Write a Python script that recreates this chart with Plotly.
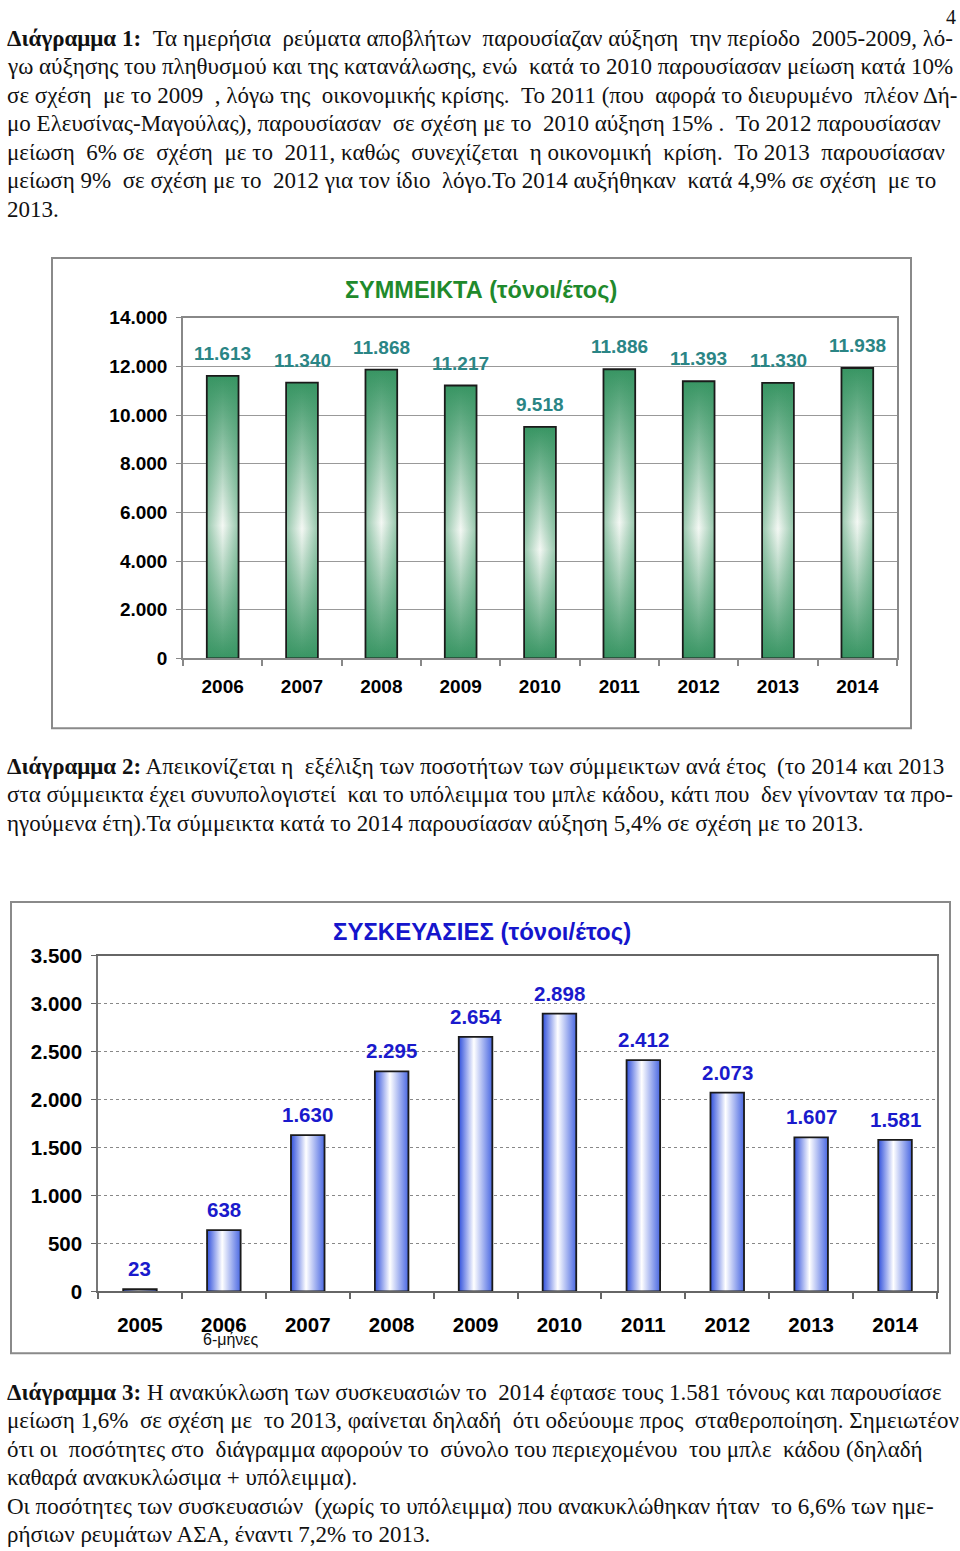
import plotly.graph_objects as go

# Page size #
W = 960
H = 1551

# The photographed page comes out slightly squeezed vertically (about 0.987, shifted
# down about 12px); positions below are given in reference pixels and corrected here.
SHOT_OFF_Y = 11.7
SHOT_SCALE_Y = 0.98665

# Data: mixed waste (tonnes/year) #
years_mixed = ["2006", "2007", "2008", "2009", "2010", "2011", "2012", "2013", "2014"]
tonnes_mixed = [11613, 11340, 11868, 11217, 9518, 11886, 11393, 11330, 11938]

# Data: packaging (tonnes/year) #
years_pack = ["2005", "2006", "2007", "2008", "2009", "2010", "2011", "2012", "2013", "2014"]
tonnes_pack = [23, 638, 1630, 2295, 2654, 2898, 2412, 2073, 1607, 1581]

# Text #
title_mixed = "ΣΥΜΜΕΙΚΤΑ (τόνοι/έτος)"
title_pack = "ΣΥΣΚΕΥΑΣΙΕΣ (τόνοι/έτος)"
pack_note = "6-μήνες"

para_1 = [
    "<b>Διάγραμμα 1:</b> Τα ημερήσια ρεύματα αποβλήτων παρουσίαζαν αύξηση την περίοδο 2005-2009, λό-",
    "γω αύξησης του πληθυσμού και της κατανάλωσης, ενώ κατά το 2010 παρουσίασαν μείωση κατά 10%",
    "σε σχέση με το 2009 , λόγω της οικονομικής κρίσης. Το 2011 (που αφορά το διευρυμένο πλέον Δή-",
    "μο Ελευσίνας-Μαγούλας), παρουσίασαν σε σχέση με το 2010 αύξηση 15% . Το 2012 παρουσίασαν",
    "μείωση 6% σε σχέση με το 2011, καθώς συνεχίζεται η οικονομική κρίση. Το 2013 παρουσίασαν",
    "μείωση 9% σε σχέση με το 2012 για τον ίδιο λόγο.Το 2014 αυξήθηκαν κατά 4,9% σε σχέση με το",
    "2013.",
]
para_2 = [
    "<b>Διάγραμμα 2:</b> Απεικονίζεται η εξέλιξη των ποσοτήτων των σύμμεικτων ανά έτος (το 2014 και 2013",
    "στα σύμμεικτα έχει συνυπολογιστεί και το υπόλειμμα του μπλε κάδου, κάτι που δεν γίνονταν τα προ-",
    "ηγούμενα έτη).Τα σύμμεικτα κατά το 2014 παρουσίασαν αύξηση 5,4% σε σχέση με το 2013.",
]
para_3 = [
    "<b>Διάγραμμα 3:</b> Η ανακύκλωση των συσκευασιών το 2014 έφτασε τους 1.581 τόνους και παρουσίασε",
    "μείωση 1,6% σε σχέση με το 2013, φαίνεται δηλαδή ότι οδεύουμε προς σταθεροποίηση. Σημειωτέον",
    "ότι οι ποσότητες στο διάγραμμα αφορούν το σύνολο του περιεχομένου του μπλε κάδου (δηλαδή",
    "καθαρά ανακυκλώσιμα + υπόλειμμα).",
    "Οι ποσότητες των συσκευασιών (χωρίς το υπόλειμμα) που ανακυκλώθηκαν ήταν το 6,6% των ημε-",
    "ρήσιων ρευμάτων ΑΣΑ, έναντι 7,2% το 2013.",
]

# Extra word spacing (no-break spaces) per line, to mimic the justified text #
justify_1 = [5, 1, 6, 3, 9, 5, 0]
justify_2 = [2, 2, 0]
justify_3 = [1, 4, 5, 0, 2, 0]

# Helpers: reference pixels -> paper coords #
def px_x(p):
    return p / W

def px_y(p):
    return 1 - ((p - SHOT_OFF_Y) / SHOT_SCALE_Y) / H

def dotted(v):
    return f"{v:,}".replace(",", ".")

def justify(text, n):
    words = text.split(" ")
    gaps = len(words) - 1
    if n <= 0 or gaps <= 0:
        return text
    extra = [0] * gaps
    for j in range(n):
        extra[min(gaps - 1, int((j + 0.5) * gaps / n))] += 1
    out = words[0]
    for g in range(gaps):
        out += " " + "\u00a0" * extra[g] + words[g + 1]
    return out

SANS = "Arial, Liberation Sans, sans-serif"
SERIF = "Liberation Serif, Times New Roman, serif"
BAR_W = 0.4
TEXT_SIZE = 23

fig = go.Figure()

# Mixed waste bars (vertical green gradient + darker edges) #
for i, v in enumerate(tonnes_mixed):
    xs = [i - BAR_W / 2, i + BAR_W / 2, i + BAR_W / 2, i - BAR_W / 2, i - BAR_W / 2]
    ys = [0, 0, v, v, 0]
    fig.add_trace(go.Scatter(
        x=xs, y=ys, xaxis="x", yaxis="y", mode="lines", fill="toself",
        line=dict(color="rgba(0,0,0,0)", width=0),
        fillgradient=dict(type="vertical", colorscale=[
            [0, "#389563"], [0.47, "#f4f8f4"], [1, "#389563"]]),
        hoverinfo="skip",
    ))
    fig.add_trace(go.Scatter(
        x=xs, y=ys, xaxis="x", yaxis="y", mode="lines", fill="toself",
        line=dict(color="#1a1a1a", width=1.8),
        fillgradient=dict(type="horizontal", colorscale=[
            [0, "rgba(56,149,99,0.5)"], [0.5, "rgba(56,149,99,0)"], [1, "rgba(56,149,99,0.5)"]]),
        hoverinfo="skip",
    ))

# Packaging bars (horizontal blue gradient) #
for i, v in enumerate(tonnes_pack):
    xs = [i - BAR_W / 2, i + BAR_W / 2, i + BAR_W / 2, i - BAR_W / 2, i - BAR_W / 2]
    ys = [0, 0, v, v, 0]
    fig.add_trace(go.Scatter(
        x=xs, y=ys, xaxis="x2", yaxis="y2", mode="lines", fill="toself",
        line=dict(color="#1a1a1a", width=1.8),
        fillgradient=dict(type="horizontal", colorscale=[
            [0, "#3050dc"], [0.45, "#ffffff"], [1, "#4a68e2"]]),
        hoverinfo="skip",
    ))

annotations = []

# Value labels #
for i, v in enumerate(tonnes_mixed):
    annotations.append(dict(
        x=i, y=v, xref="x", yref="y", text=dotted(v), showarrow=False,
        yanchor="bottom", yshift=10,
        font=dict(family=SANS, size=19, color="#2a8585", weight="bold")))
for i, v in enumerate(tonnes_pack):
    annotations.append(dict(
        x=i, y=v, xref="x2", yref="y2", text=dotted(v), showarrow=False,
        yanchor="bottom", yshift=7,
        font=dict(family=SANS, size=20.5, color="#1a1acc", weight="bold")))

# Chart titles #
annotations.append(dict(
    x=px_x(481), y=px_y(290), xref="paper", yref="paper", text=title_mixed,
    showarrow=False, xanchor="center", yanchor="middle",
    font=dict(family=SANS, size=23.5, color="#1f8a2c", weight="bold")))
annotations.append(dict(
    x=px_x(482), y=px_y(933), xref="paper", yref="paper", text=title_pack,
    showarrow=False, xanchor="center", yanchor="middle",
    font=dict(family=SANS, size=24, color="#1515cc", weight="bold")))

# "6-months" note under 2006 #
annotations.append(dict(
    x=1, y=px_y(1341), xref="x2", yref="paper", text=pack_note, showarrow=False,
    xanchor="center", yanchor="middle", xshift=7,
    font=dict(family=SANS, size=16, color="#111")))

# Paragraph text #
LINE = 28.5
for lines, spacing, y0 in [(para_1, justify_1, 38), (para_2, justify_2, 767), (para_3, justify_3, 1394)]:
    for k, t in enumerate(lines):
        annotations.append(dict(
            x=px_x(5), y=px_y(y0 + k * LINE), xref="paper", yref="paper",
            text=justify(t, spacing[k]),
            showarrow=False, xanchor="left", yanchor="middle",
            font=dict(family=SERIF, size=TEXT_SIZE, color="#111")))

# Page number #
annotations.append(dict(
    x=px_x(958), y=px_y(17), xref="paper", yref="paper", text="4", showarrow=False,
    xanchor="right", yanchor="middle", font=dict(family=SERIF, size=20, color="#111")))

# Chart frames #
shapes = [
    dict(type="rect", xref="paper", yref="paper", x0=px_x(52), x1=px_x(911),
         y0=px_y(729), y1=px_y(258), line=dict(color="#8a8a8a", width=2)),
    dict(type="rect", xref="paper", yref="paper", x0=px_x(11), x1=px_x(950),
         y0=px_y(1355), y1=px_y(903), line=dict(color="#8a8a8a", width=2)),
]

tick_1 = dict(family=SANS, size=19, color="#000", weight="bold")
tick_2 = dict(family=SANS, size=20.5, color="#000", weight="bold")

fig.update_layout(
    width=W, height=H, margin=dict(l=0, r=0, t=0, b=0),
    paper_bgcolor="white", plot_bgcolor="white", showlegend=False,
    separators=",.",
    annotations=annotations, shapes=shapes,
    xaxis=dict(
        domain=[px_x(183), px_x(897)], anchor="y", range=[-0.5, len(years_mixed) - 0.5],
        tickmode="array", tickvals=list(range(len(years_mixed))), ticktext=years_mixed,
        ticks="", tickfont=tick_1, ticklabelstandoff=10,
        showline=True, linecolor="#888", linewidth=2, mirror=True, showgrid=False, zeroline=False,
        minor=dict(tickmode="array", tickvals=[i - 0.5 for i in range(len(years_mixed) + 1)],
                   ticks="outside", ticklen=6, tickcolor="#888", tickwidth=1.5, showgrid=False),
        fixedrange=True,
    ),
    yaxis=dict(
        domain=[px_y(659), px_y(318)], anchor="x", range=[0, 14000], dtick=2000,
        tickformat=",d", tickfont=tick_1, ticks="outside", ticklen=5, tickcolor="#888",
        ticklabelstandoff=5,
        showline=True, linecolor="#888", linewidth=1.5, mirror=True,
        showgrid=True, gridcolor="#999", gridwidth=1, zeroline=False, fixedrange=True,
    ),
    xaxis2=dict(
        domain=[px_x(98), px_x(937)], anchor="y2", range=[-0.5, len(years_pack) - 0.5],
        tickmode="array", tickvals=list(range(len(years_pack))), ticktext=years_pack,
        ticks="", tickfont=tick_2, ticklabelstandoff=14,
        showline=True, linecolor="#666", linewidth=1.5, mirror=True, showgrid=False, zeroline=False,
        minor=dict(tickmode="array", tickvals=[i - 0.5 for i in range(len(years_pack) + 1)],
                   ticks="outside", ticklen=6, tickcolor="#666", tickwidth=1.5, showgrid=False),
        fixedrange=True,
    ),
    yaxis2=dict(
        domain=[px_y(1293), px_y(957)], anchor="x2", range=[0, 3500], dtick=500,
        tickformat=",d", tickfont=tick_2, ticks="outside", ticklen=5, tickcolor="#666",
        ticklabelstandoff=5,
        showline=True, linecolor="#777", linewidth=1.5, mirror=True,
        showgrid=True, gridcolor="#888", gridwidth=1, griddash="dot", zeroline=False,
        fixedrange=True,
    ),
)

# The page has the browser's default body margin; drop it so the figure fills the window #
fig.write_html(
    "out.html",
    config={"displayModeBar": False},
    post_script="document.body.style.margin='0';",
)
